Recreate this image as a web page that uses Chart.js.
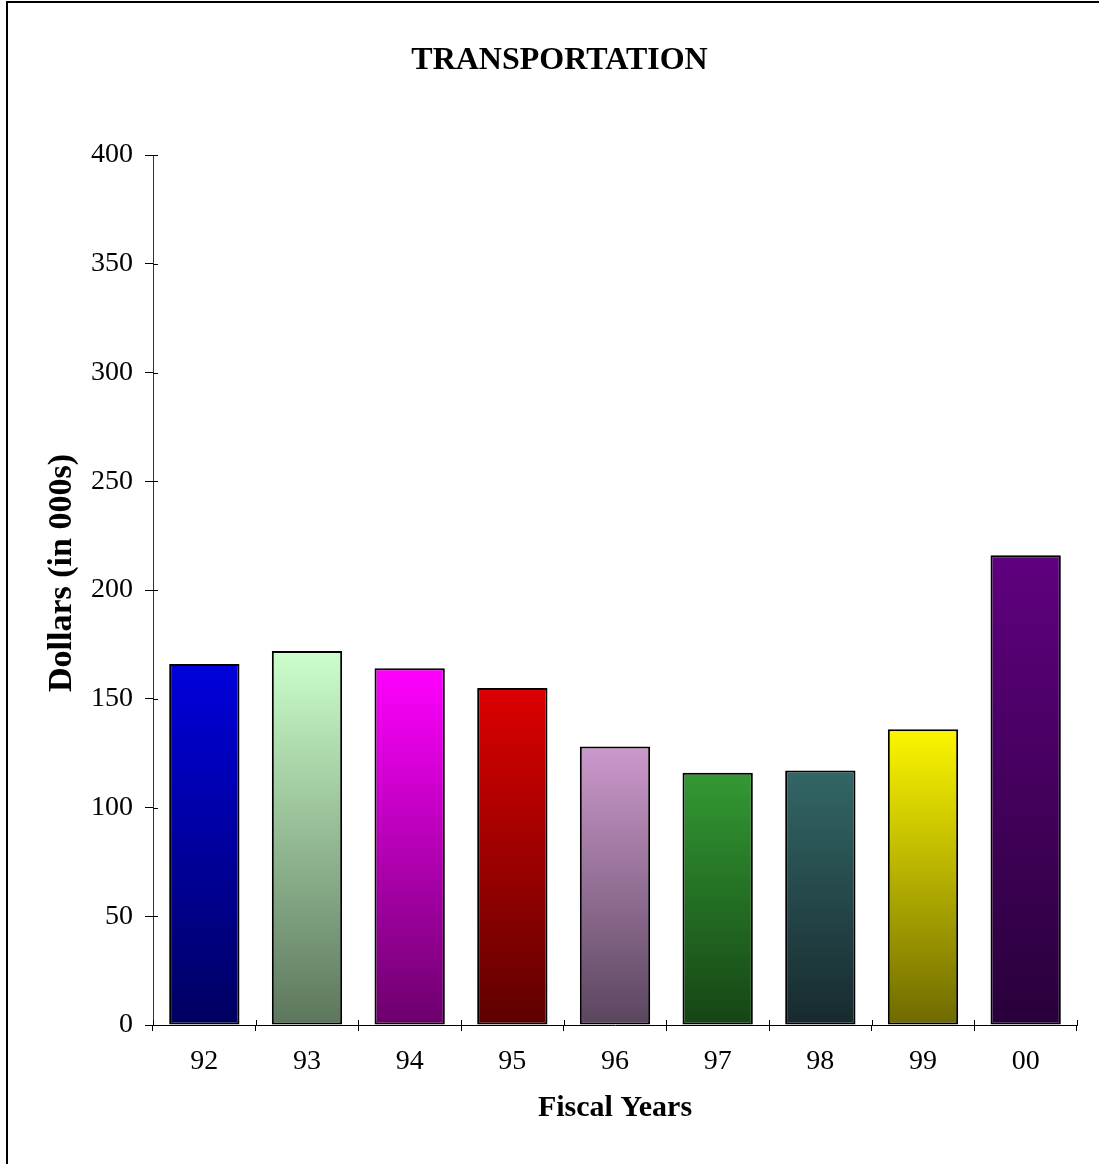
<!DOCTYPE html>
<html>
<head>
<meta charset="utf-8">
<title>Transportation</title>
<script src="https://cdn.jsdelivr.net/npm/chart.js@4.4.1/dist/chart.umd.min.js"></script>
<style>
  html, body { margin: 0; padding: 0; background: #fff; overflow: hidden; }
  #frame {
    position: absolute; left: 6px; top: 1px; width: 1300px; height: 1400px;
    border-left: 2px solid #000; border-top: 2px solid #000;
  }
  #wrap { position: absolute; left: 0; top: 0; width: 1099px; height: 1164px; }
</style>
</head>
<body>
<div id="frame"></div>
<div id="wrap"><canvas id="chart" width="1099" height="1164"></canvas></div>
<script>
// chart data
const years = ["92", "93", "94", "95", "96", "97", "98", "99", "00"];
const dollars = [166, 172, 164, 155, 128, 116, 117, 136, 216];
const yTicks = [0, 50, 100, 150, 200, 250, 300, 350, 400];

// gradient colours per bar (top -> bottom)
const topColors = ["#0000dc", "#ccffcc", "#ff00ff", "#dd0000", "#cc99cc", "#339933", "#336666", "#fcf600", "#600080"];
const bottomColors = ["#000060", "#5c765c", "#6c006c", "#5e0000", "#5a465e", "#154515", "#172a2e", "#6e6a00", "#28003a"];

const serif = "'Times New Roman', 'Liberation Serif', serif";

// tick marks that cross the axis lines (the library only draws them outward)
const crossTicks = {
  id: "crossTicks",
  afterDraw(chart) {
    const { ctx, scales: { x, y } } = chart;
    ctx.save();
    ctx.strokeStyle = "#000";
    ctx.lineWidth = 1;
    ctx.beginPath();
    for (let i = 0; i <= years.length; i++) {
      const px = Math.round((x.getPixelForValue(i - 0.5))) + 0.5;
      ctx.moveTo(px, y.bottom);
      ctx.lineTo(px, y.bottom - 5);
    }
    yTicks.forEach(v => {
      const py = Math.round(y.getPixelForValue(v)) + 0.5;
      ctx.moveTo(x.left, py);
      ctx.lineTo(x.left + 5, py);
    });
    ctx.stroke();
    ctx.restore();
  }
};

document.addEventListener("DOMContentLoaded", () => {
  const ctx = document.getElementById("chart").getContext("2d");

  new Chart(ctx, {
    type: "bar",
    data: {
      labels: years,
      datasets: [{
        data: dollars,
        backgroundColor: (c) => {
          const i = c.dataIndex;
          const chart = c.chart;
          if (!chart.chartArea || c.type !== "data") return topColors[i];
          const y = chart.scales.y;
          const g = chart.ctx.createLinearGradient(0, y.getPixelForValue(c.raw), 0, y.getPixelForValue(0));
          g.addColorStop(0, topColors[i]);
          g.addColorStop(1, bottomColors[i]);
          return g;
        },
        borderColor: "#000",
        borderWidth: 2,
        borderSkipped: false,
        barPercentage: 0.685,
        categoryPercentage: 1
      }]
    },
    options: {
      responsive: false,
      animation: false,
      layout: { padding: { left: 42, right: 22, top: 0, bottom: 38 } },
      plugins: {
        legend: { display: false },
        tooltip: { enabled: false },
        title: {
          display: true,
          text: "TRANSPORTATION",
          color: "#000",
          font: { family: serif, size: 32, weight: "bold", lineHeight: 1.2 },
          padding: { top: 42, bottom: 74.6 }
        }
      },
      scales: {
        x: {
          offset: true,
          grid: {
            display: true,
            offset: true,
            drawOnChartArea: false,
            drawTicks: true,
            tickLength: 6,
            tickColor: "#000",
            color: "#000"
          },
          border: { display: true, color: "#000", width: 1 },
          ticks: {
            color: "#000",
            padding: 14,
            font: { family: serif, size: 28 }
          },
          title: {
            display: true,
            text: "Fiscal Years",
            color: "#000",
            padding: 0,
            font: { family: serif, size: 30, weight: "bold", lineHeight: 1.2 }
          },
          afterFit: (s) => { s.height = 101; }
        },
        y: {
          min: 0,
          max: 400,
          afterBuildTicks: (s) => { s.ticks = yTicks.map(v => ({ value: v })); },
          grid: {
            display: true,
            drawOnChartArea: false,
            drawTicks: true,
            tickLength: 8,
            tickColor: "#000",
            color: "#000"
          },
          border: { display: true, color: "#333", width: 1 },
          ticks: {
            color: "#000",
            padding: 12,
            font: { family: serif, size: 28 }
          },
          title: {
            display: true,
            // leading spaces nudge the rotated title upward, as in the original
            text: "\u00a0\u00a0\u00a0\u00a0Dollars (in 000s)",
            color: "#000",
            padding: 0,
            font: { family: serif, size: 34, weight: "bold", lineHeight: 1.2 }
          },
          afterFit: (s) => { s.width = 111; }
        }
      }
    },
    plugins: [crossTicks]
  });
});
</script>
</body>
</html>
